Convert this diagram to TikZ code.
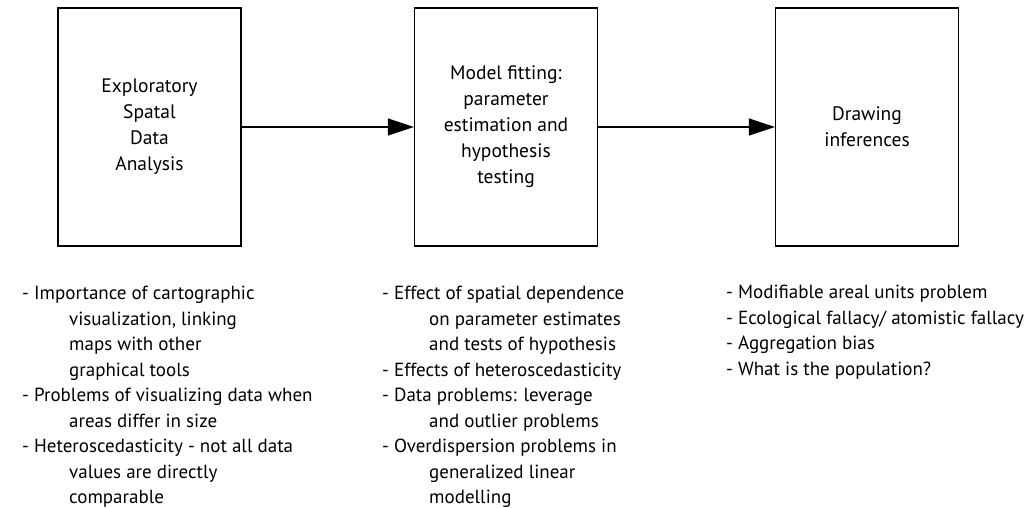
\documentclass[tikz,border=0pt]{standalone}
\usepackage{fontspec}
\setmainfont{PT Sans}
\usetikzlibrary{arrows.meta}
\begin{document}
\begin{tikzpicture}[x=1pt,y=-1pt,
  stage/.style={draw, line width=1.3pt, minimum width=183pt, minimum height=238pt,
    inner sep=0pt, align=center, font=\fontsize{19.5}{26}\selectfont},
  flow/.style={line width=1.3pt, -{Triangle[length=26pt,width=17pt]}},
  notes/.style={anchor=north west, align=left, inner sep=0pt,
    font=\fontsize{19}{25.5}\selectfont}]
\useasboundingbox (0,0) rectangle (1036,508);
\newcommand\ind{\hspace*{47pt}}
\node[stage] (eda) at (149.5,127) {Exploratory\\Spatal\\Data\\Analysis};
\node[stage] (fit) at (506,127) {Model fitting:\\parameter\\estimation and\\hypothesis\\testing};
\node[stage] (inf) at (867,127) {Drawing\\inferences};
\draw[flow] (eda) -- (fit);
\draw[flow] (fit) -- (inf);
\node[notes] (n1) at (22,286) {- Importance of cartographic\\
  \ind visualization, linking\\ \ind maps with other\\ \ind graphical tools\\
  - Problems of visualizing data when\\ \ind areas differ in size\\
  - Heteroscedasticity - not all data\\ \ind values are directly\\ \ind comparable};
\node[notes] (n2) at (382,286) {- Effect of spatial dependence\\
  \ind on parameter estimates\\ \ind and tests of hypothesis\\
  - Effects of heteroscedasticity\\
  - Data problems: leverage\\ \ind and outlier problems\\
  - Overdispersion problems in\\ \ind generalized linear\\ \ind modelling};
\node[notes] (n3) at (726,285) {- Modifiable areal units problem\\
  - Ecological fallacy/ atomistic fallacy\\ - Aggregation bias\\ - What is the population?};
\end{tikzpicture}
\end{document}
